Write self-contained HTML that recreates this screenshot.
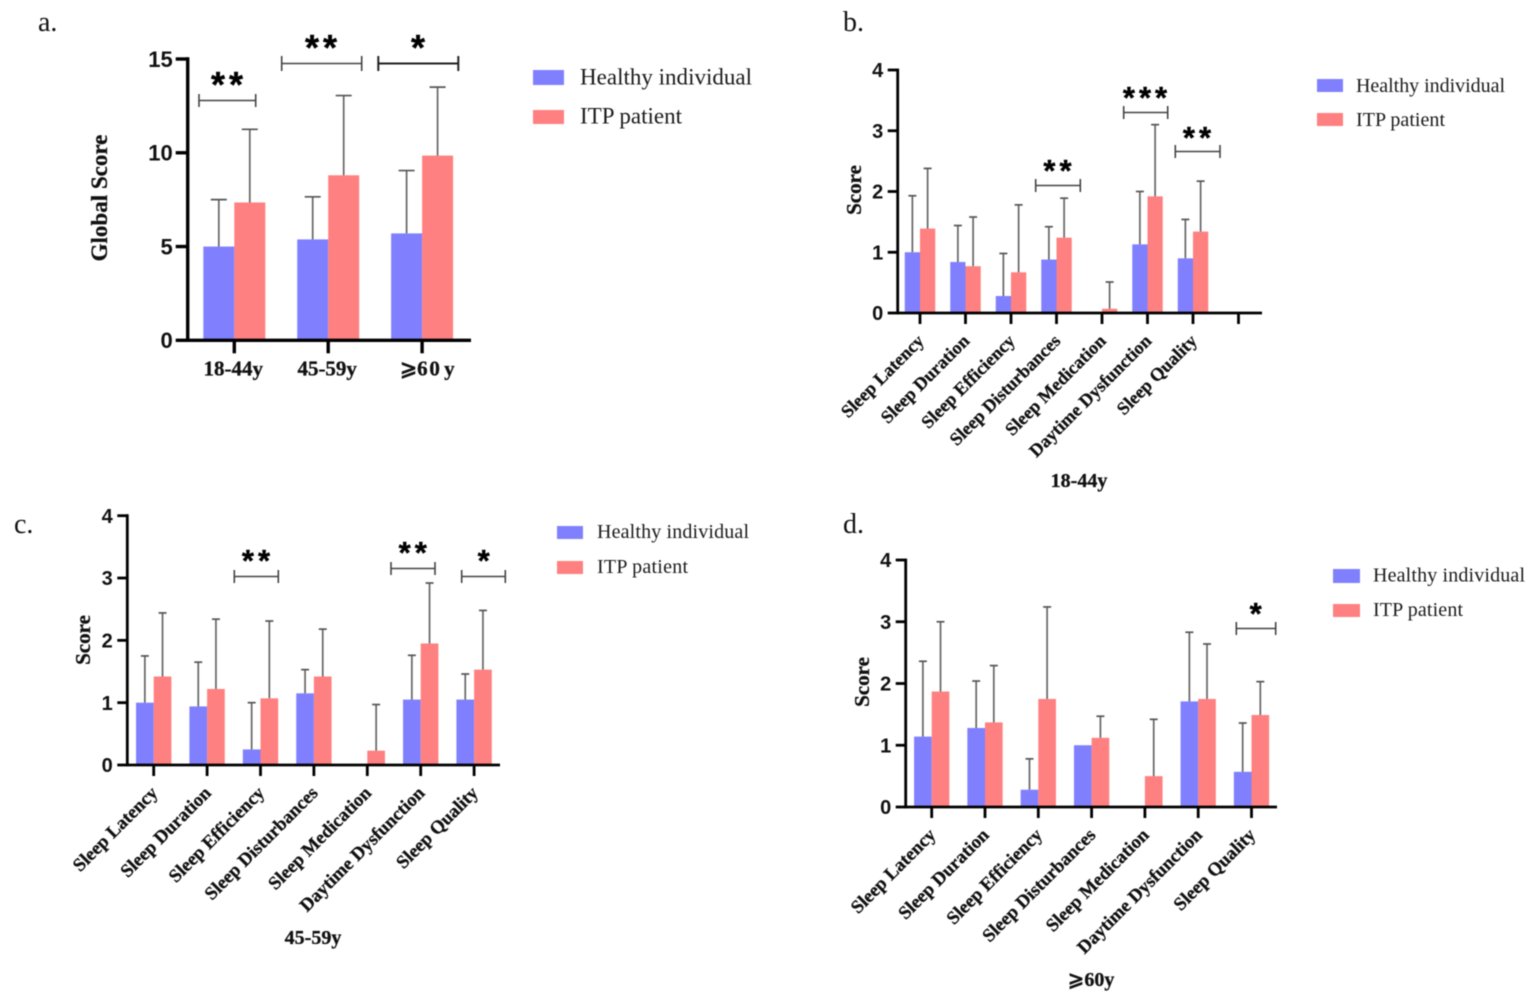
<!DOCTYPE html>
<html lang="en">
<head>
<meta charset="utf-8">
<title>Sleep scores: healthy individuals vs ITP patients</title>
<style>
  html, body { margin: 0; padding: 0; background: #fff; }
  svg { display: block; filter: blur(0.4px); }
  .serif { font-family: "Liberation Serif", "DejaVu Sans", "Noto Sans CJK SC", serif; fill: #111; }
  .sans { font-family: "Liberation Sans", sans-serif; fill: #111; font-weight: 700; }
  .title { font-weight: 700; stroke: #111; stroke-width: 0.3; }
  .legend-text { fill: #1a1a1a; }
  .bracket { fill: none; stroke: #444; stroke-width: 1.6; }
  .star { font-family: "Liberation Sans", sans-serif; font-weight: 700; fill: #000; text-anchor: middle; stroke: #000; stroke-width: 0.4; }
</style>
</head>
<body>
<svg id="figure" xmlns="http://www.w3.org/2000/svg" width="1535" height="996" viewBox="0 0 1535 996">
  <rect width="1535" height="996" fill="#fff"/>

  <g id="panel-a"></g>
  <g id="panel-b"></g>
  <g id="panel-c"></g>
  <g id="panel-d"></g>

  <!-- panel letters -->
  <text class="serif" x="38" y="31" font-size="28">a.</text>
  <text class="serif" x="843" y="31" font-size="28">b.</text>
  <text class="serif" x="14" y="533" font-size="28">c.</text>
  <text class="serif" x="843" y="533" font-size="28">d.</text>

  <!-- legends -->
  <g>
    <rect x="533" y="70" width="31" height="15" fill="#8080ff"/>
    <text class="serif legend-text" x="580" y="84.5" font-size="23" textLength="172">Healthy individual</text>
    <rect x="533" y="110" width="31" height="14" fill="#ff8080"/>
    <text class="serif legend-text" x="580" y="123.5" font-size="23" textLength="102">ITP patient</text>
  </g>
  <g>
    <rect x="1317" y="79" width="26" height="13" fill="#8080ff"/>
    <text class="serif legend-text" x="1356" y="92" font-size="20" textLength="149">Healthy individual</text>
    <rect x="1317" y="113" width="26" height="13" fill="#ff8080"/>
    <text class="serif legend-text" x="1356" y="126" font-size="20" textLength="89">ITP patient</text>
  </g>
  <g>
    <rect x="557" y="526" width="26" height="13" fill="#8080ff"/>
    <text class="serif legend-text" x="597" y="538" font-size="20" textLength="152">Healthy individual</text>
    <rect x="557" y="561" width="26" height="13" fill="#ff8080"/>
    <text class="serif legend-text" x="597" y="573" font-size="20" textLength="91">ITP patient</text>
  </g>
  <g>
    <rect x="1333" y="569" width="27" height="14" fill="#8080ff"/>
    <text class="serif legend-text" x="1373" y="581.5" font-size="20" textLength="152">Healthy individual</text>
    <rect x="1333" y="604" width="27" height="13" fill="#ff8080"/>
    <text class="serif legend-text" x="1373" y="616" font-size="20" textLength="90">ITP patient</text>
  </g>

  <!-- significance brackets -->
  <g>
    <path class="bracket" d="M199 94V107M199 100.5H255.7M255.7 94V107"/>
    <text class="star" x="229" y="97" font-size="36" letter-spacing="4">**</text>
    <path class="bracket" d="M281.7 56V71M281.7 63.5H361.7M361.7 56V71"/>
    <text class="star" x="323" y="60" font-size="36" letter-spacing="4">**</text>
    <path class="bracket" style="stroke:#222;stroke-width:2" d="M378.3 56V71M378.3 63.5H458.3M458.3 56V71"/>
    <text class="star" x="418" y="60" font-size="36">*</text>
  </g>
  <g>
    <path class="bracket" d="M1035.7 179V192M1035.7 185.5H1080.3M1080.3 179V192"/>
    <text class="star" x="1059.5" y="181" font-size="31" letter-spacing="4">**</text>
    <path class="bracket" d="M1123.7 106V119M1123.7 112.5H1167.7M1167.7 106V119"/>
    <text class="star" x="1147" y="108" font-size="31" letter-spacing="4">***</text>
    <path class="bracket" d="M1175.3 145V158M1175.3 151.5H1220M1220 145V158"/>
    <text class="star" x="1199" y="148" font-size="31" letter-spacing="4">**</text>
  </g>
  <g>
    <path class="bracket" d="M234.3 570V583M234.3 576.5H278.3M278.3 570V583"/>
    <text class="star" x="258" y="571" font-size="31" letter-spacing="4">**</text>
    <path class="bracket" d="M391 562V575M391 568.5H435M435 562V575"/>
    <text class="star" x="414.7" y="563" font-size="31" letter-spacing="4">**</text>
    <path class="bracket" d="M461.7 570V583M461.7 576.5H505.3M505.3 570V583"/>
    <text class="star" x="483.7" y="571" font-size="31">*</text>
  </g>
  <g>
    <path class="bracket" d="M1236.3 622V635M1236.3 628.5H1275.7M1275.7 622V635"/>
    <text class="star" x="1255.7" y="624" font-size="31">*</text>
  </g>
</svg>

<script>
// ---------- shared labels ----------
const ageGroupLabels = ["18-44y", "45-59y", "\u2A7E6\u200A0\u2009y"];
const sleepCategories = ["Sleep Latency", "Sleep Duration", "Sleep Efficiency", "Sleep Disturbances", "Sleep Medication", "Daytime Dysfunction", "Sleep Quality"];
const globalTickValues = [0, 5, 10, 15];
const scoreTickValues = [0, 1, 2, 3, 4];

// ---------- panel a: global score ----------
const aHealthy = [5.0, 5.38, 5.7];
const aItp = [7.35, 8.8, 9.85];
const aHealthyUpper = [7.5, 7.65, 9.05];
const aItpUpper = [11.25, 13.05, 13.5];

// ---------- panel b: 18-44y ----------
const bHealthy = [1.0, 0.84, 0.28, 0.88, 0, 1.13, 0.9];
const bItp = [1.39, 0.77, 0.67, 1.24, 0.07, 1.92, 1.34];
const bHealthyUpper = [1.93, 1.44, 0.98, 1.42, null, 2.0, 1.54];
const bItpUpper = [2.38, 1.58, 1.78, 1.89, 0.51, 3.1, 2.17];

// ---------- panel c: 45-59y ----------
const cHealthy = [1.0, 0.94, 0.25, 1.15, 0, 1.05, 1.05];
const cItp = [1.42, 1.22, 1.07, 1.42, 0.23, 1.95, 1.53];
const cHealthyUpper = [1.75, 1.65, 1.0, 1.53, null, 1.76, 1.46];
const cItpUpper = [2.44, 2.34, 2.31, 2.18, 0.97, 2.92, 2.48];

// ---------- panel d: 60y and over ----------
const dHealthy = [1.14, 1.28, 0.28, 1.0, 0, 1.71, 0.57];
const dItp = [1.87, 1.37, 1.75, 1.12, 0.5, 1.75, 1.49];
const dHealthyUpper = [2.36, 2.04, 0.78, null, null, 2.83, 1.36];
const dItpUpper = [3.0, 2.29, 3.24, 1.47, 1.42, 2.64, 2.03];

const SVG_NS = "http://www.w3.org/2000/svg";

function make(parent, tag, props, text) {
  const el = document.createElementNS(SVG_NS, tag);
  for (const key in props) el.setAttribute(key, props[key]);
  if (text !== undefined) el.textContent = text;
  parent.appendChild(el);
  return el;
}

function drawBars(g, cfg, values, centerOffset, fill, uppers, x, y, barWidth) {
  values.forEach(function (v, i) {
    const cx = x(i) + centerOffset;
    const bar = make(g, "rect", { x: cx - barWidth / 2, y: y(v), width: barWidth, height: Math.max(0, y(0) - y(v)), fill: fill });
    
    
  });
  uppers.forEach(function (u, i) {
    if (u === null) return;
    const cx = x(i) + centerOffset;
    const stem = make(g, "line", { x1: cx, x2: cx, y1: y(values[i]), y2: y(u), stroke: "#666", "stroke-width": 1.7 });
    
    
    const cap = make(g, "line", { x1: cx - cfg.capHalf, x2: cx + cfg.capHalf, y1: y(u), y2: y(u), stroke: "#555", "stroke-width": 1.7 });
    
    
  });
}

function drawPanel(cfg) {
  const g = document.getElementById(cfg.id);
  const x = function (i) { return cfg.firstCenter + cfg.step * i; };
  const y = function (v) { return cfg.y0 - (v / cfg.max) * (cfg.y0 - cfg.yTop); };
  const barWidth = cfg.step * cfg.barFraction;

  drawBars(g, cfg, cfg.healthy, -barWidth / 2, "#8080ff", cfg.healthyUpper, x, y, barWidth);
  drawBars(g, cfg, cfg.itp, barWidth / 2, "#ff8080", cfg.itpUpper, x, y, barWidth);

  // axes
  const yAxis = make(g, "line", { x1: cfg.axisX, x2: cfg.axisX, y1: y(cfg.max) - cfg.axisW / 2, y2: cfg.y0 + cfg.axisW / 2, stroke: "#000", "stroke-width": cfg.axisW });
  
  
  const xAxis = make(g, "line", { x1: cfg.axisX, x2: cfg.axisEnd, y1: cfg.y0, y2: cfg.y0, stroke: "#000", "stroke-width": cfg.axisW });
  
  

  // y ticks
  cfg.yTicks.forEach(function (t) {
    const tick = make(g, "line", { x1: cfg.axisX - cfg.yTickLen, x2: cfg.axisX, y1: y(t), y2: y(t), stroke: "#000", "stroke-width": cfg.axisW });
    
    
    const label = make(g, "text", { class: "sans", x: cfg.axisX - cfg.yTickLen - cfg.yLabelGap, y: y(t) + cfg.yFont * 0.36, "font-size": cfg.yFont, "text-anchor": "end" }, String(t));
    
    
  });

  // x ticks
  for (let i = 0; i < cfg.xTickCount; i++) {
    const tick = make(g, "line", { x1: x(i), x2: x(i), y1: cfg.y0, y2: cfg.y0 + cfg.xTickLen, stroke: "#000", "stroke-width": cfg.axisW });
    
    
  }

  // category labels
  cfg.categories.forEach(function (c, i) {
    if (cfg.rotated) {
      const ax = x(i) + 5, ay = cfg.y0 + 29;
      const label = make(g, "text", { class: "serif title", x: ax, y: ay, "font-size": cfg.catFont, "text-anchor": "end", transform: "rotate(-45 " + ax + " " + ay + ")" }, c);
      
      
    } else {
      const label = make(g, "text", { class: "serif title", x: x(i) - 1 + (i === 2 ? 6 : 0), y: cfg.y0 + 35, "font-size": cfg.catFont, "text-anchor": "middle" }, c);
      
      
    }
  });

  // y title
  const yt = make(g, "text", { class: "serif title", x: 0, y: 0, "font-size": cfg.yTitleFont, "text-anchor": "middle", transform: "translate(" + cfg.yTitleX + " " + cfg.yTitleY + ") rotate(-90)" }, cfg.yTitle);
  
  

  // x title
  if (cfg.xTitle) {
    const xt = make(g, "text", { class: "serif title", x: cfg.xTitleX, y: cfg.xTitleY, "font-size": 20, "text-anchor": "middle" }, cfg.xTitle);
    
    
  }
}

drawPanel({
  id: "panel-a", categories: ageGroupLabels, healthy: aHealthy, itp: aItp, healthyUpper: aHealthyUpper, itpUpper: aItpUpper,
  yTicks: globalTickValues, max: 15, axisX: 187.7, axisEnd: 471, y0: 340.3, yTop: 59, firstCenter: 234.3, step: 93.9, barFraction: 0.33,
  axisW: 3.4, yTickLen: 12, xTickLen: 13, xTickCount: 3, yFont: 22, yLabelGap: 3, catFont: 21, rotated: false, capHalf: 8,
  yTitle: "Global Score", yTitleFont: 23, yTitleX: 107, yTitleY: 198
});
drawPanel({
  id: "panel-b", categories: sleepCategories, healthy: bHealthy, itp: bItp, healthyUpper: bHealthyUpper, itpUpper: bItpUpper,
  yTicks: scoreTickValues, max: 4, axisX: 897.7, axisEnd: 1262, y0: 313, yTop: 70, firstCenter: 920, step: 45.5, barFraction: 0.335,
  axisW: 2.8, yTickLen: 10, xTickLen: 11, xTickCount: 8, yFont: 20, yLabelGap: 4.5, catFont: 18.2, rotated: true, capHalf: 4,
  yTitle: "Score", yTitleFont: 21, yTitleX: 861, yTitleY: 190, xTitle: "18-44y", xTitleX: 1079, xTitleY: 487
});
drawPanel({
  id: "panel-c", categories: sleepCategories, healthy: cHealthy, itp: cItp, healthyUpper: cHealthyUpper, itpUpper: cItpUpper,
  yTicks: scoreTickValues, max: 4, axisX: 127.3, axisEnd: 500, y0: 765, yTop: 515.7, firstCenter: 153.7, step: 53.4, barFraction: 0.331,
  axisW: 2.8, yTickLen: 10, xTickLen: 11, xTickCount: 7, yFont: 20, yLabelGap: 4.5, catFont: 18.6, rotated: true, capHalf: 4,
  yTitle: "Score", yTitleFont: 21, yTitleX: 90, yTitleY: 640, xTitle: "45-59y", xTitleX: 313, xTitleY: 944
});
drawPanel({
  id: "panel-d", categories: sleepCategories, healthy: dHealthy, itp: dItp, healthyUpper: dHealthyUpper, itpUpper: dItpUpper,
  yTicks: scoreTickValues, max: 4, axisX: 905.7, axisEnd: 1277, y0: 807, yTop: 560, firstCenter: 931.7, step: 53.3, barFraction: 0.331,
  axisW: 2.8, yTickLen: 10, xTickLen: 11, xTickCount: 7, yFont: 20, yLabelGap: 4.5, catFont: 18.6, rotated: true, capHalf: 4,
  yTitle: "Score", yTitleFont: 21, yTitleX: 869, yTitleY: 682, xTitle: "\u2A7E60y", xTitleX: 1091, xTitleY: 986
});
</script>
</body>
</html>
